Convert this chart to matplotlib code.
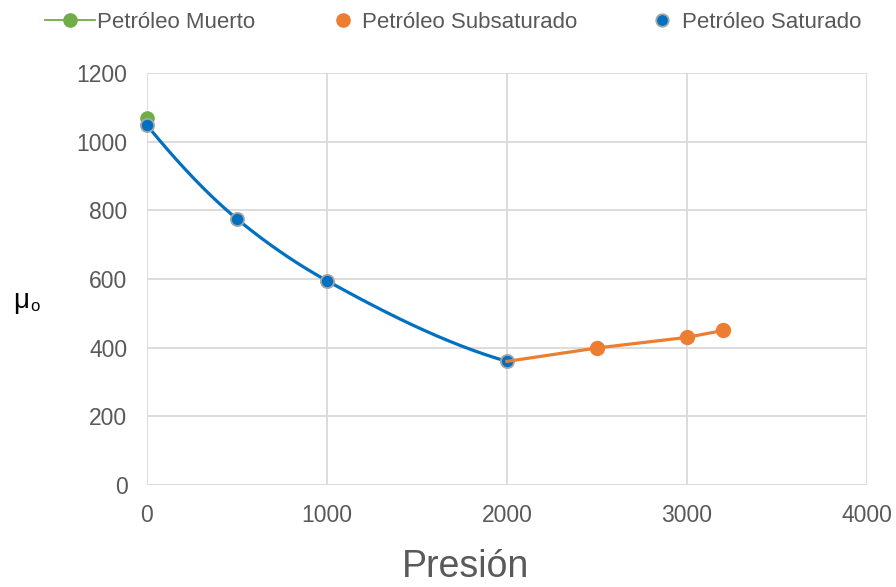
import numpy as np
import matplotlib
matplotlib.use("Agg")
import matplotlib.pyplot as plt
from matplotlib.lines import Line2D

plt.rcParams['font.family'] = ['Liberation Sans', 'DejaVu Sans']

p_muerto = [0]
mu_muerto = [1068]

p_sat = [0, 500, 1000, 2000]
mu_sat = [1048, 775, 595, 360]

p_sub = [2000, 2500, 3000, 3200]
mu_sub = [360, 399, 430, 450]

x_ticks = [0, 1000, 2000, 3000, 4000]
y_ticks = [0, 200, 400, 600, 800, 1000, 1200]

AZUL = '#0070C0'
NARANJA = '#ED7D31'
VERDE = '#70AD47'
GRIS = '#A5A5A5'
TEXTO = '#595959'


def suavizar(x, y, n=60):
    # interpolación cúbica monótona (tipo PCHIP) para la línea suavizada
    x = np.asarray(x, float)
    y = np.asarray(y, float)
    h = np.diff(x)
    d = np.diff(y) / h
    m = np.zeros_like(y)
    for k in range(1, len(x) - 1):
        if d[k - 1] * d[k] > 0:
            w1 = 2 * h[k] + h[k - 1]
            w2 = h[k] + 2 * h[k - 1]
            m[k] = (w1 + w2) / (w1 / d[k - 1] + w2 / d[k])
    m[0] = ((2 * h[0] + h[1]) * d[0] - h[0] * d[1]) / (h[0] + h[1])
    m[-1] = ((2 * h[-1] + h[-2]) * d[-1] - h[-1] * d[-2]) / (h[-1] + h[-2])
    xs, ys = [], []
    for k in range(len(h)):
        t = np.linspace(0, 1, n)
        h00 = 2 * t ** 3 - 3 * t ** 2 + 1
        h10 = t ** 3 - 2 * t ** 2 + t
        h01 = -2 * t ** 3 + 3 * t ** 2
        h11 = t ** 3 - t ** 2
        xs.append(x[k] + t * h[k])
        ys.append(h00 * y[k] + h10 * h[k] * m[k] + h01 * y[k + 1] + h11 * h[k] * m[k + 1])
    return np.concatenate(xs), np.concatenate(ys)


fig = plt.figure(figsize=(8.96, 5.87), dpi=100)
ax = fig.add_axes([0.164, 0.1738, 0.8036, 0.7018])
ax.set_xlim(0, 4000)
ax.set_ylim(0, 1200)

ax.plot(p_muerto, mu_muerto, 'o', color=VERDE, ms=9.5, zorder=3, clip_on=False)

xs, ys = suavizar(p_sat, mu_sat)
ax.plot(xs, ys, color=AZUL, lw=2.3, zorder=4)
ax.plot(p_sat, mu_sat, 'o', color=AZUL, mfc=AZUL, mec=GRIS, mew=1.3, ms=9.5, zorder=5, clip_on=False)

ax.plot(p_sub, mu_sub, color=NARANJA, lw=2.3, zorder=6)
ax.plot(p_sub[1:], mu_sub[1:], 'o', color=NARANJA, ms=10, zorder=6)

ax.set_xticks(x_ticks)
ax.set_yticks(y_ticks)
ax.grid(True, color='#D9D9D9', lw=1.3)
ax.set_axisbelow(True)
for s in ax.spines.values():
    s.set_visible(False)
ax.tick_params(length=0, labelsize=16.5, labelcolor=TEXTO, pad=14)
ax.tick_params(axis='y', pad=14)

fig.text(0.519, 0.004, 'Presión', fontsize=27, color=TEXTO, ha='center', va='bottom')
fig.text(0.015, 0.488, 'μ', fontsize=20, color='black', ha='left', va='center')
fig.text(0.034, 0.478, 'o', fontsize=12, color='black', ha='left', va='center')

# leyenda superior
ly = 1 - 20 / 587
leyenda = [
    (70, 97, VERDE, None, True, 'Petróleo Muerto'),
    (343, 362, NARANJA, None, False, 'Petróleo Subsaturado'),
    (662, 682, AZUL, GRIS, False, 'Petróleo Saturado'),
]
for mx, tx, col, borde, con_linea, txt in leyenda:
    if con_linea:
        fig.add_artist(Line2D([45 / 896, 95 / 896], [ly, ly], color=col, lw=1.3,
                              transform=fig.transFigure))
    fig.add_artist(Line2D([mx / 896], [ly], color=col, marker='o', ms=9.5 if borde is None else 9,
                          mec=borde if borde else col, mew=1.3 if borde else 1,
                          transform=fig.transFigure))
    fig.text(tx / 896, ly, txt, fontsize=16, color=TEXTO, ha='left', va='center_baseline')

fig.savefig('out.png', dpi=100)
